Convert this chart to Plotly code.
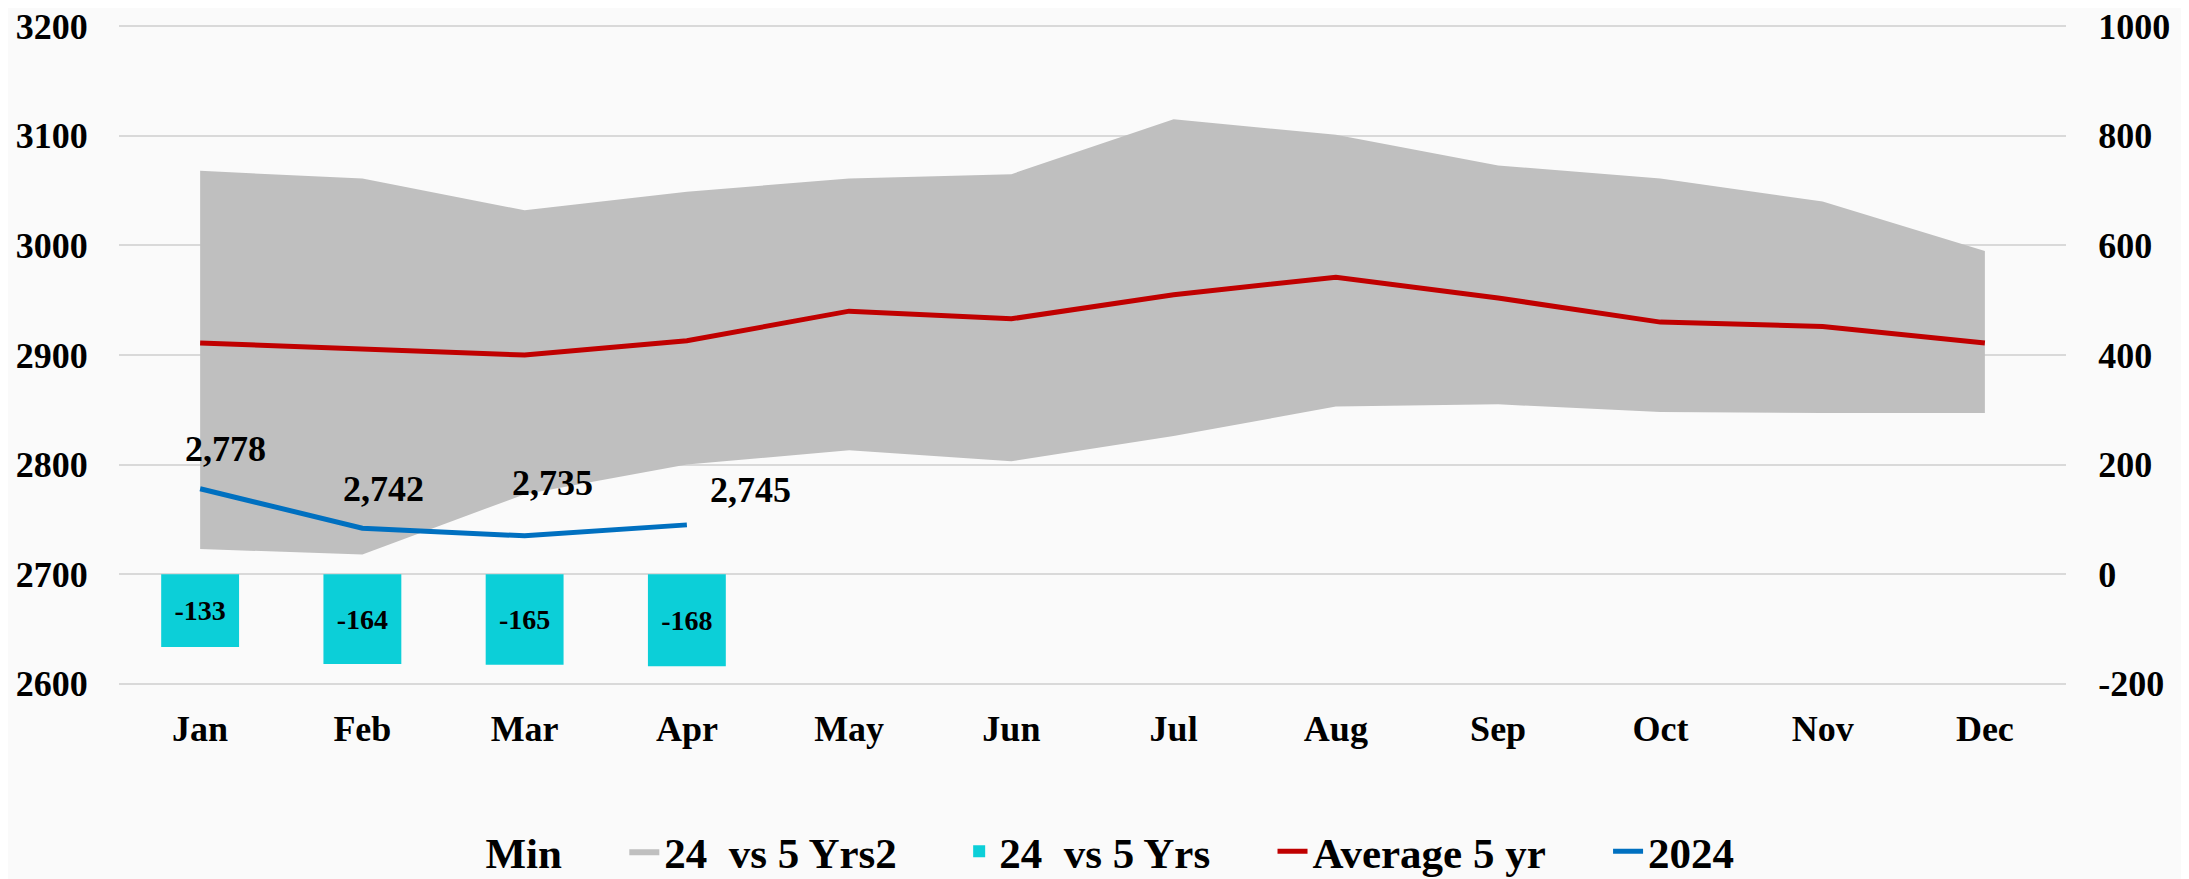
import plotly.graph_objects as go

months = ["Jan", "Feb", "Mar", "Apr", "May", "Jun", "Jul", "Aug", "Sep", "Oct", "Nov", "Dec"]
min_5yr = [2723, 2718, 2773, 2800, 2813, 2803, 2826, 2853, 2855, 2848, 2847, 2847]
max_5yr = [3068, 3061, 3032, 3049, 3061, 3065, 3115, 3101, 3073, 3061, 3040, 2995]
avg_5yr = [2911, 2906, 2900, 2913, 2940, 2933, 2955, 2971, 2952, 2930, 2926, 2911]
months_2024 = ["Jan", "Feb", "Mar", "Apr"]
val_2024 = [2778, 2742, 2735, 2745]
diff_vs_5yr = [-133, -164, -165, -168]
left_ticks = [2600, 2700, 2800, 2900, 3000, 3100, 3200]
right_ticks = [-200, 0, 200, 400, 600, 800, 1000]

# label offsets (px) for the 2024 data labels
label_dx = [25, 21, 28, 64]
label_dy = [40, 39, 53, 35]

FONT = "Liberation Serif, Times New Roman, serif"
GREY = "#BFBFBF"
CYAN = "#0CCFD8"
RED = "#C00000"
BLUE = "#0070C0"
PAD = "\u00a0" * 5 + "\u200a"

fig = go.Figure()

fig.add_trace(go.Scatter(
    x=months, y=min_5yr, name="Min" + PAD, mode="lines",
    line=dict(width=0, color="rgba(0,0,0,0)"), yaxis="y", hoverinfo="skip"))
fig.add_trace(go.Scatter(
    x=months, y=max_5yr, name="24\u00a0 vs 5 Yrs2" + PAD, mode="lines",
    line=dict(width=0, color=GREY), fill="tonexty", fillcolor=GREY, yaxis="y"))
fig.add_trace(go.Bar(
    x=months_2024, y=diff_vs_5yr, name="24\u00a0 vs 5 Yrs" + PAD, yaxis="y2",
    marker=dict(color=CYAN, line=dict(width=0)), width=0.48,
    text=[str(v) for v in diff_vs_5yr], textposition="inside",
    insidetextanchor="middle", textangle=0,
    textfont=dict(family=FONT, size=28, color="black", weight="bold")))
fig.add_trace(go.Scatter(
    x=months, y=avg_5yr, name="Average 5 yr" + PAD, mode="lines",
    line=dict(width=5, color=RED), yaxis="y"))
fig.add_trace(go.Scatter(
    x=months_2024, y=val_2024, name="2024", mode="lines",
    line=dict(width=5, color=BLUE), yaxis="y"))

for m, v, dx, dy in zip(months_2024, val_2024, label_dx, label_dy):
    fig.add_annotation(
        x=m, y=v, xref="x", yref="y", text=f"{v:,}", showarrow=False,
        xshift=dx, yshift=dy,
        font=dict(family=FONT, size=36, color="black", weight="bold"))

tickfont = dict(family=FONT, size=36, color="black", weight="bold")
xtickfont = dict(family=FONT, size=36, color="black", weight="bold")

# page body has an 8px default margin: compensate so the plot lands where the reference has it
fig.update_layout(
    width=2181, height=871,
    margin=dict(l=111, r=123, t=16, b=193, autoexpand=False),
    paper_bgcolor="#fafafa", plot_bgcolor="#fafafa",
    showlegend=True,
    barmode="overlay",
    xaxis=dict(
        type="category", categoryorder="array", categoryarray=months,
        range=[-0.5, 11.5], showgrid=False, showline=False, zeroline=False,
        tickfont=xtickfont, ticks="outside", ticklen=11, tickcolor="rgba(0,0,0,0)",
        automargin=False, ticklabeloverflow="allow"),
    yaxis=dict(
        range=[2598, 3202], tickvals=left_ticks, ticktext=[str(t) for t in left_ticks],
        showgrid=True, gridcolor="#D9D9D9", gridwidth=2,
        zeroline=False, showline=False, tickfont=tickfont,
        ticks="outside", ticklen=23, tickcolor="rgba(0,0,0,0)", automargin=False,
        ticklabeloverflow="allow"),
    yaxis2=dict(
        range=[-204, 1004], tickvals=right_ticks, ticktext=[str(t) for t in right_ticks],
        overlaying="y", side="right",
        showgrid=False, zeroline=False, showline=False, tickfont=tickfont,
        ticks="outside", ticklen=24, tickcolor="rgba(0,0,0,0)", automargin=False,
        ticklabeloverflow="allow"),
    legend=dict(
        orientation="h", x=0.5, xanchor="center", y=-0.302, yanchor="bottom",
        font=dict(family=FONT, size=43, color="black", weight="bold"),
        bgcolor="rgba(0,0,0,0)", traceorder="normal", itemwidth=30),
)

fig.write_html("out.html")
